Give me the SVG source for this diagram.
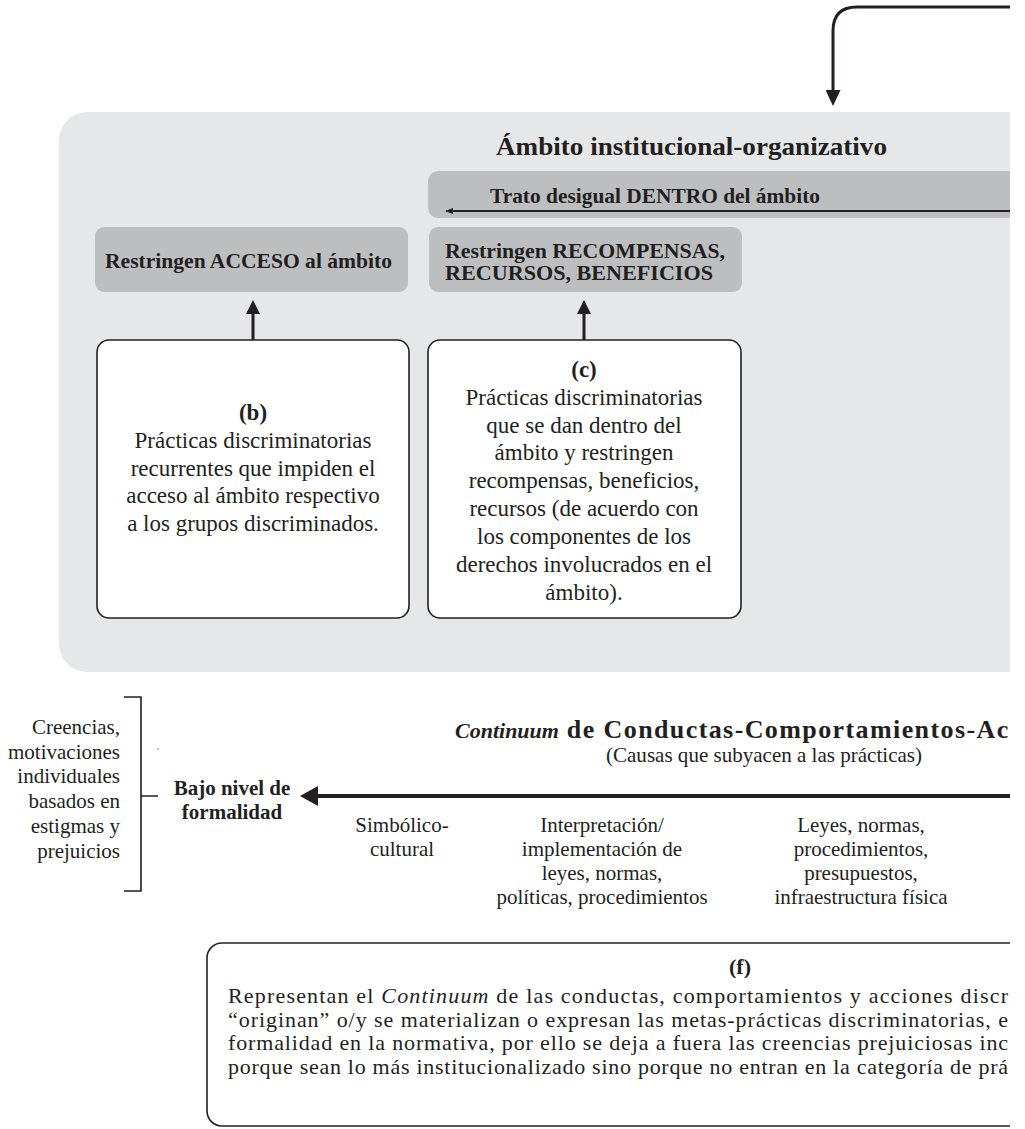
<svg xmlns="http://www.w3.org/2000/svg" width="1025" height="1129" viewBox="0 0 1025 1129">
<style>
text{font-family:"Liberation Serif","Times New Roman",serif;fill:#231f20}
.b{font-weight:bold}
.i{font-style:italic}
.m{text-anchor:middle}
.r{text-anchor:end}
.box{fill:#ffffff;stroke:#231f20;stroke-width:1.6}
.bar{fill:#bcbec0}
.ln{fill:none;stroke:#231f20}
</style>
<defs>
<clipPath id="page"><rect x="0" y="0" width="1010" height="1129"/></clipPath>
<marker id="mTop" viewBox="0 0 16 15" refX="6" refY="7.5" markerWidth="16" markerHeight="15" markerUnits="userSpaceOnUse" orient="auto"><path d="M0,0 L16,7.5 L0,15 z" fill="#231f20"/></marker>
<marker id="mUp" viewBox="0 0 14 14" refX="4" refY="7" markerWidth="14" markerHeight="14" markerUnits="userSpaceOnUse" orient="auto"><path d="M0,0 L14,7 L0,14 z" fill="#231f20"/></marker>
<marker id="mBig" viewBox="0 0 18 20" refX="8" refY="10" markerWidth="18" markerHeight="20" markerUnits="userSpaceOnUse" orient="auto"><path d="M0,0 L18,10 L0,20 z" fill="#231f20"/></marker>
<marker id="mSmall" viewBox="0 0 8 6" refX="7" refY="3" markerWidth="8" markerHeight="6" markerUnits="userSpaceOnUse" orient="auto"><path d="M0,0 L8,3 L0,6 z" fill="#231f20"/></marker>
</defs>
<rect x="0" y="0" width="1025" height="1129" fill="#ffffff"/>
<g clip-path="url(#page)">
<g id="panel-institucional">
<rect x="59" y="112" width="1000" height="560" rx="28" fill="#e6e7e8"/>
<text class="b" x="496" y="155" font-size="26" textLength="391" lengthAdjust="spacingAndGlyphs">Ámbito institucional-organizativo</text>
</g>
<g id="trato-desigual">
<rect class="bar" x="428" y="171" width="640" height="47" rx="10"/>
<text class="b" x="490" y="203" font-size="21" textLength="330" lengthAdjust="spacingAndGlyphs">Trato desigual DENTRO del ámbito</text>
</g>
<g id="restringen-acceso">
<rect class="bar" x="95" y="227" width="313" height="65" rx="9"/>
<text class="b" x="105" y="268" font-size="21" textLength="287" lengthAdjust="spacingAndGlyphs">Restringen ACCESO al ámbito</text>
</g>
<g id="restringen-recompensas">
<rect class="bar" x="429" y="227" width="313" height="65" rx="9"/>
<text class="b" x="445" y="258" font-size="21" textLength="280" lengthAdjust="spacingAndGlyphs">Restringen RECOMPENSAS,</text>
<text class="b" x="445" y="280" font-size="21" textLength="268" lengthAdjust="spacingAndGlyphs">RECURSOS, BENEFICIOS</text>
</g>
<g id="box-b">
<rect class="box" x="97" y="340" width="312" height="278" rx="12"/>
<text class="m" x="253" font-size="23"><tspan class="b" x="253" y="420">(b)</tspan><tspan x="253" y="448">Prácticas discriminatorias</tspan><tspan x="253" y="476">recurrentes que impiden el</tspan><tspan x="253" y="503">acceso al ámbito respectivo</tspan><tspan x="253" y="531">a los grupos discriminados.</tspan></text>
</g>
<g id="box-c">
<rect class="box" x="428" y="340" width="313" height="278" rx="12"/>
<text class="m" x="584" font-size="23"><tspan class="b" x="584" y="377">(c)</tspan><tspan x="584" y="405">Prácticas discriminatorias</tspan><tspan x="584" y="433">que se dan dentro del</tspan><tspan x="584" y="460">ámbito y restringen</tspan><tspan x="584" y="488">recompensas, beneficios,</tspan><tspan x="584" y="516">recursos (de acuerdo con</tspan><tspan x="584" y="544">los componentes de los</tspan><tspan x="584" y="572">derechos involucrados en el</tspan><tspan x="584" y="600">ámbito).</tspan></text>
</g>
<g id="creencias">
<path class="ln" stroke-width="1.6" d="M124,697 H141 V891 H124 M141,796 H158"/>
<circle cx="158" cy="749" r="0.8" fill="#777"/>
<text class="r" font-size="21"><tspan x="120" y="734">Creencias,</tspan><tspan x="120" y="759">motivaciones</tspan><tspan x="120" y="783">individuales</tspan><tspan x="120" y="808">basados en</tspan><tspan x="120" y="833">estigmas y</tspan><tspan x="120" y="858">prejuicios</tspan></text>
</g>
<g id="bajo-nivel">
<text class="b m" font-size="21"><tspan x="232" y="795">Bajo nivel de</tspan><tspan x="232" y="819">formalidad</tspan></text>
</g>
<g id="continuum-title">
<text class="b" x="455" y="738" font-size="26"><tspan class="i" font-size="22">Continuum</tspan><tspan letter-spacing="1.4"> de Conductas-Comportamientos-Ac</tspan></text>
<text x="606" y="762" font-size="21" textLength="316" lengthAdjust="spacingAndGlyphs">(Causas que subyacen a las prácticas)</text>
</g>
<g id="niveles">
<text class="m" font-size="21"><tspan x="402" y="832">Simbólico-</tspan><tspan x="402" y="856">cultural</tspan></text>
<text class="m" font-size="21"><tspan x="602" y="832">Interpretación/</tspan><tspan x="602" y="856">implementación de</tspan><tspan x="602" y="880">leyes, normas,</tspan><tspan x="602" y="904">políticas, procedimientos</tspan></text>
<text class="m" font-size="21"><tspan x="861" y="832">Leyes, normas,</tspan><tspan x="861" y="856">procedimientos,</tspan><tspan x="861" y="880">presupuestos,</tspan><tspan x="861" y="904">infraestructura física</tspan></text>
</g>
<g id="box-f">
<rect class="box" x="207" y="943" width="900" height="183" rx="15"/>
<text class="b m" x="740" y="974" font-size="22">(f)</text>
<text font-size="22" x="228" y="1003" textLength="780" lengthAdjust="spacing">Representan el <tspan class="i">Continuum</tspan> de las conductas, comportamientos y acciones discr</text>
<text font-size="22" x="228" y="1026.5" textLength="780" lengthAdjust="spacing">“originan” o/y se materializan o expresan las metas-prácticas discriminatorias, e</text>
<text font-size="22" x="228" y="1050" textLength="780" lengthAdjust="spacing">formalidad en la normativa, por ello se deja a fuera las creencias prejuiciosas inc</text>
<text font-size="22" x="228" y="1073.5" textLength="780" lengthAdjust="spacing">porque sean lo más institucionalizado sino porque no entran en la categoría de prá</text>
</g>
<g id="connectors">
<path class="ln" stroke-width="3" d="M1030,7 H857 Q833,7 833,31 V96" marker-end="url(#mTop)"/>
<path class="ln" stroke-width="1.8" d="M1030,211 H446" marker-end="url(#mSmall)"/>
<path class="ln" stroke-width="3" d="M253,340 V310" marker-end="url(#mUp)"/>
<path class="ln" stroke-width="3" d="M584,340 V310" marker-end="url(#mUp)"/>
<path class="ln" stroke-width="4" d="M1030,796 H310" marker-end="url(#mBig)"/>
</g>
</g>
</svg>
